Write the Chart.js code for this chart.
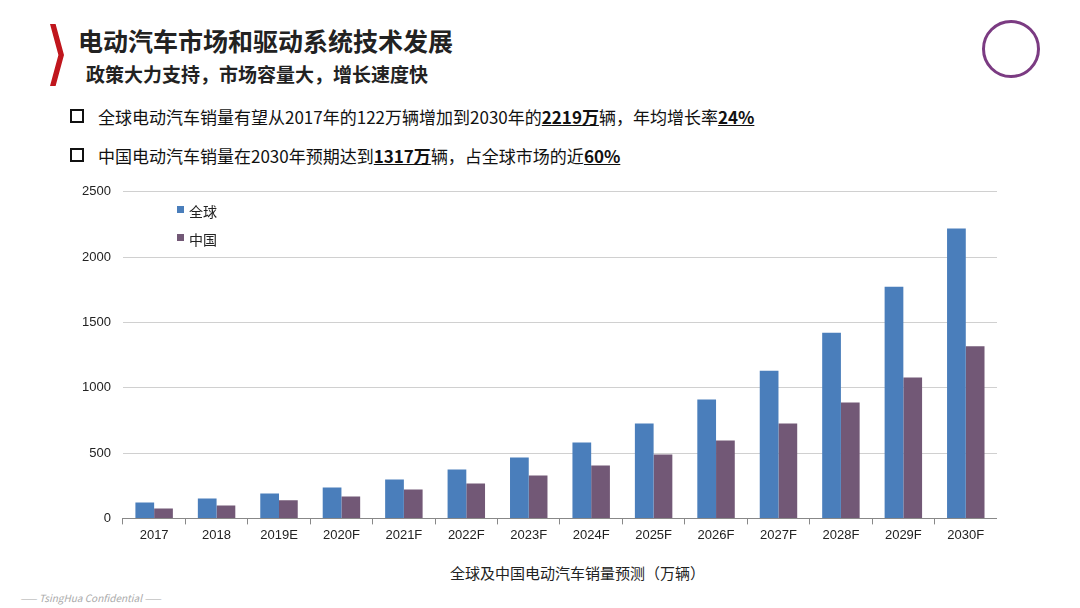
<!DOCTYPE html>
<html><head><meta charset="utf-8">
<script src="https://cdn.jsdelivr.net/npm/chart.js@4/dist/chart.umd.min.js"></script>
<style>
body{margin:0;width:1080px;height:608px;background:#fff;font-family:"Noto Sans CJK SC","Noto Sans",sans-serif;position:relative;overflow:hidden}
.t1{position:absolute;left:78px;top:22px;font-size:25px;font-weight:bold;color:#222}
.t2{position:absolute;left:86px;top:60px;font-size:19px;font-weight:bold;color:#222}
.bar{position:absolute;left:50px;top:24px;width:14px;height:62px;background:#c0161d;clip-path:polygon(0 0,40% 0,100% 50%,40% 100%,0 100%,60% 50%)}
.b{position:absolute;left:70px;font-size:17px;color:#111}
.b span.sq{display:inline-block;width:10px;height:10px;border:2px solid #111;margin-right:14px;vertical-align:1px}
.b u{font-weight:bold}
#wrap{position:absolute;left:70px;top:172px;width:927px;height:374px}
.leg{position:absolute;left:177px;font-size:14px;color:#222}
.leg i{display:inline-block;width:7px;height:7px;margin-right:5px;vertical-align:4px}
.xt{position:absolute;left:450px;top:562px;font-size:15px;color:#222}
.logo{position:absolute;left:982px;top:20px;width:58px;height:58px;border-radius:50%;border:3px solid #7b3b82;box-sizing:border-box}
.conf{position:absolute;left:20px;top:590px;font-size:10px;font-style:italic;color:#aaa}
</style></head><body>
<div class="bar"></div>
<div class="t1">电动汽车市场和驱动系统技术发展</div>
<div class="t2">政策大力支持，市场容量大，增长速度快</div>
<div class="logo"></div>
<div class="b" style="top:104px"><span class="sq"></span>全球电动汽车销量有望从2017年的122万辆增加到2030年的<u>2219万</u>辆，年均增长率<u>24%</u></div>
<div class="b" style="top:143px"><span class="sq"></span>中国电动汽车销量在2030年预期达到<u>1317万</u>辆，占全球市场的近<u>60%</u></div>
<div id="wrap"><canvas id="c"></canvas></div>
<div class="leg" style="top:201px"><i style="background:#4a7ebb"></i>全球</div>
<div class="leg" style="top:229px"><i style="background:#725876"></i>中国</div>
<div class="xt">全球及中国电动汽车销量预测（万辆）</div>
<div class="conf">—— TsingHua Confidential ——</div>
<script>
const years = ["2017","2018","2019E","2020F","2021F","2022F","2023F","2024F","2025F","2026F","2027F","2028F","2029F","2030F"];
const globalSales = [122,153,191,237,298,375,466,581,726,910,1131,1422,1774,2219];
const chinaSales = [76,99,138,168,222,268,329,405,489,596,726,887,1078,1317];
const yTicks = [0,500,1000,1500,2000,2500];

new Chart(document.getElementById('c'), {
    type: 'bar',
    data: {
        labels: years,
        datasets: [
            { label: '全球', data: globalSales, backgroundColor: '#4a7ebb', categoryPercentage: 0.6, barPercentage: 1 },
            { label: '中国', data: chinaSales, backgroundColor: '#725876', categoryPercentage: 0.6, barPercentage: 1 }
        ]
    },
    options: {
        responsive: true, maintainAspectRatio: false, animation: false,
        layout: { padding: { top: 5 } },
        plugins: { legend: { display: false }, tooltip: { enabled: false } },
        scales: {
            x: {
                grid: { display: true, drawOnChartArea: false, offset: true, color: '#888', tickLength: 6 },
                border: { color: '#888' },
                ticks: { color: '#222', font: { size: 13 } }
            },
            y: {
                min: 0, max: 2500,
                afterBuildTicks: (s) => { s.ticks = yTicks.map(v => ({ value: v })); },
                grid: { color: '#d0d0d0', drawTicks: false },
                border: { display: false },
                ticks: { color: '#222', font: { size: 13 }, padding: 12, callback: v => String(v) }
            }
        }
    }
});
</script>
</body></html>
